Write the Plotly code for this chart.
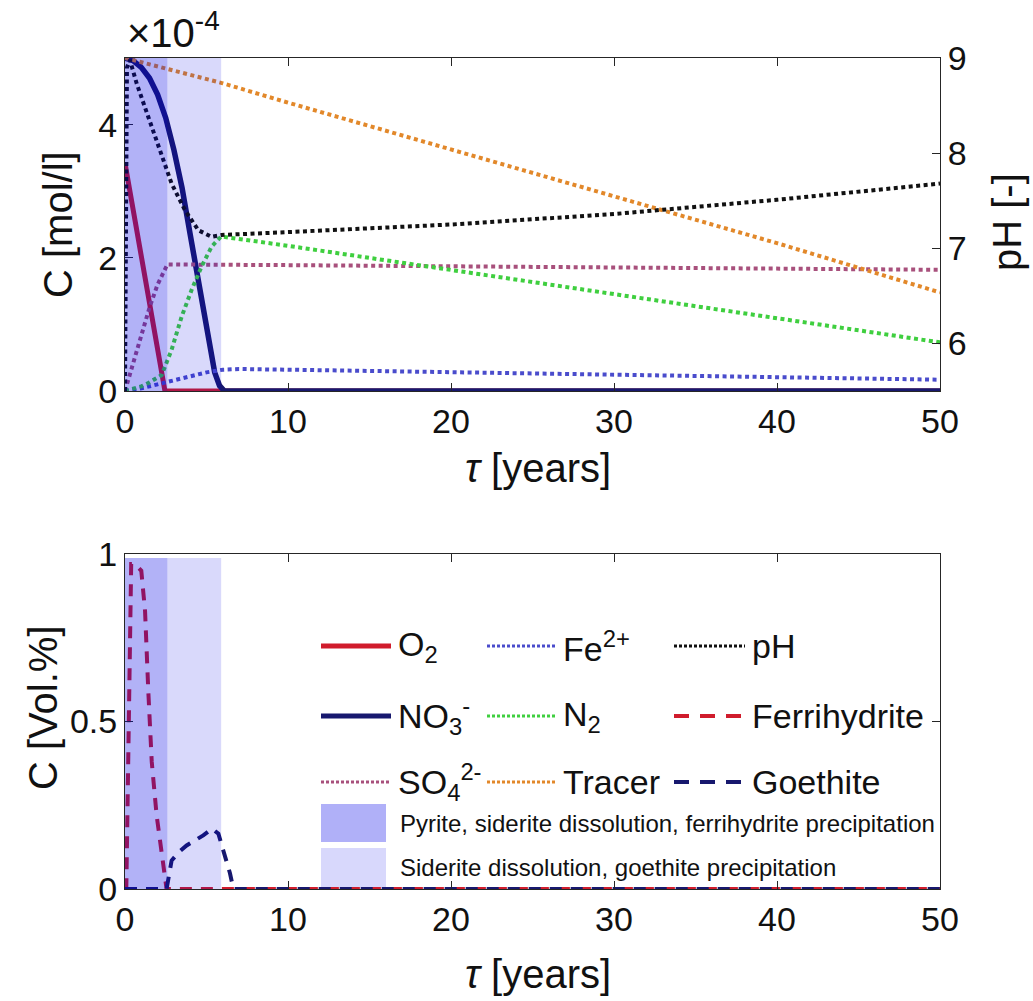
import plotly.graph_objects as go

# ---------------- data ----------------
# concentrations in units of 1e-4 mol/l, time tau in years
o2_t = [0, 2.45, 5.9, 50]
o2_c = [3.42, 0, 0, 0]

no3_t = [0, 0.5, 1.0, 1.5, 2.0, 2.5, 3.0, 3.5, 4.0, 4.5, 5.0, 5.5, 5.8, 6.1, 50]
no3_c = [5.0, 4.96, 4.86, 4.70, 4.45, 4.10, 3.62, 3.05, 2.35, 1.62, 0.90, 0.28, 0.08, 0.0, 0.0]

so4_t = [0, 0.5, 1.0, 1.5, 2.0, 2.6, 10, 20, 30, 40, 50]
so4_c = [0, 0.42, 0.85, 1.25, 1.60, 1.90, 1.89, 1.87, 1.85, 1.83, 1.82]

fe_t = [0, 1, 2, 3, 4, 5, 6, 7, 10, 20, 30, 40, 50]
fe_c = [0, 0.04, 0.10, 0.16, 0.23, 0.28, 0.32, 0.33, 0.32, 0.28, 0.24, 0.20, 0.17]

n2_t = [0, 0.5, 1.0, 1.43, 2.25, 2.86, 3.48, 4.09, 4.7, 5.32, 5.9, 10, 20, 30, 40, 50]
n2_c = [0, 0.03, 0.07, 0.12, 0.24, 0.62, 1.12, 1.52, 1.87, 2.17, 2.32, 2.18, 1.82, 1.46, 1.09, 0.73]

tracer_t = [0, 6, 10, 20, 30, 40, 50]
tracer_c = [5.0, 4.62, 4.33, 3.63, 2.93, 2.22, 1.48]

ph_t = [0, 0.12, 0.3, 0.72, 1.43, 2.15, 2.86, 3.68, 4.5, 5.32, 5.93, 10, 20, 30, 40, 50]
ph_v = [5.5, 8.9, 8.98, 8.73, 8.38, 8.03, 7.68, 7.40, 7.19, 7.12, 7.14, 7.17, 7.25, 7.36, 7.51, 7.68]

# mineral volume fractions in Vol.%
ferri_t = [0, 0.08, 0.38, 0.6, 1.0, 1.23, 1.43, 1.64, 1.94, 2.25, 2.45, 2.55, 50]
ferri_v = [0, 0, 0.97, 0.97, 0.95, 0.83, 0.59, 0.38, 0.22, 0.10, 0.02, 0, 0]

goe_t = [0, 2.55, 2.86, 3.3, 3.78, 4.3, 4.8, 5.35, 5.73, 6.03, 6.44, 6.65, 50]
goe_v = [0, 0, 0.085, 0.11, 0.13, 0.145, 0.16, 0.18, 0.165, 0.115, 0.047, 0, 0]

# reaction zones (years)
zone_pyrite = [0, 2.6]
zone_siderite = [2.6, 5.9]

x_ticks = [0, 10, 20, 30, 40, 50]
c_ticks = [0, 2, 4]
ph_ticks = [6, 7, 8, 9]
vol_ticks = [0, 0.5, 1]
vol_tick_text = ["0", "0.5", "1"]

# ---------------- styles ----------------
RED = "#d01c2c"
NAVY = "#17186e"
MAUVE = "#a8507c"
BLUE = "#4a4ccc"
GREEN = "#3fcf3f"
ORANGE = "#e2882a"
BLACK = "#111111"
DOT = "4px,3.5px"
DASH = "12px,9px"
FONT = "Liberation Sans, Arial, Helvetica, sans-serif"
AX = "#262626"

W, H = 1033, 1001
ML, MR, MT, MB = 125, 93, 58, 112
PW = W - ML - MR
PHh = H - MT - MB


def pxx(x):
    return (x - ML) / PW


def pxy(y):
    return (H - MB - y) / PHh


fig = go.Figure()

# upper panel: aqueous species
fig.add_trace(go.Scatter(x=o2_t, y=o2_c, mode="lines", line=dict(color=RED, width=5), xaxis="x", yaxis="y"))
fig.add_trace(go.Scatter(x=no3_t, y=no3_c, mode="lines", line=dict(color=NAVY, width=5.5), xaxis="x", yaxis="y"))
fig.add_trace(go.Scatter(x=so4_t, y=so4_c, mode="lines", line=dict(color=MAUVE, width=4, dash=DOT), xaxis="x", yaxis="y"))
fig.add_trace(go.Scatter(x=fe_t, y=fe_c, mode="lines", line=dict(color=BLUE, width=4, dash=DOT), xaxis="x", yaxis="y"))
fig.add_trace(go.Scatter(x=n2_t, y=n2_c, mode="lines", line=dict(color=GREEN, width=4, dash=DOT), xaxis="x", yaxis="y"))
fig.add_trace(go.Scatter(x=tracer_t, y=tracer_c, mode="lines", line=dict(color=ORANGE, width=4, dash=DOT), xaxis="x", yaxis="y"))
fig.add_trace(go.Scatter(x=ph_t, y=ph_v, mode="lines", line=dict(color=BLACK, width=4, dash=DOT), xaxis="x", yaxis="y2"))

# lower panel: minerals
fig.add_trace(go.Scatter(x=ferri_t, y=ferri_v, mode="lines", line=dict(color=RED, width=4, dash=DASH), xaxis="x2", yaxis="y3"))
fig.add_trace(go.Scatter(x=goe_t, y=goe_v, mode="lines", line=dict(color=NAVY, width=4, dash=DASH), xaxis="x2", yaxis="y3"))

# shaded reaction zones, drawn over the curves
shapes = []
for xr, yr, ytop in (("x", "y domain", 1.0), ("x2", "y3", 0.988)):
    shapes.append(dict(type="rect", xref=xr, yref=yr, x0=zone_pyrite[0], x1=zone_pyrite[1], y0=0, y1=ytop,
                       fillcolor="rgb(0,0,230)", opacity=0.30, line=dict(width=0), layer="above"))
    shapes.append(dict(type="rect", xref=xr, yref=yr, x0=zone_siderite[0], x1=zone_siderite[1], y0=0, y1=ytop,
                       fillcolor="rgb(0,0,230)", opacity=0.15, line=dict(width=0), layer="above"))

annotations = []

# hand-built legend (3 x 3 grid plus the two zone patches)
LDASH = "15px,11px"
legend_items = [
    ("O<sub>2</sub>", RED, "solid", 5, 321, 391, 396, 646),
    ("NO<sub>3</sub><sup>-</sup>", NAVY, "solid", 5, 321, 391, 396, 716),
    ("SO<sub>4</sub><sup>2-</sup>", MAUVE, "3px,2px", 3, 321, 391, 396, 782),
    ("Fe<sup>2+</sup>", BLUE, "3px,2px", 3, 487, 555, 561, 646),
    ("N<sub>2</sub>", GREEN, "3px,2px", 3, 487, 555, 561, 716),
    ("Tracer", ORANGE, "3px,2px", 3, 487, 555, 561, 782),
    ("pH", BLACK, "3px,2px", 3, 674, 745, 750, 646),
    ("Ferrihydrite", RED, LDASH, 4, 674, 745, 750, 716),
    ("Goethite", NAVY, LDASH, 4, 674, 745, 750, 782),
]
for label, col, dash, wdt, xa, xb, xt, yy in legend_items:
    shapes.append(dict(type="line", xref="paper", yref="paper", x0=pxx(xa), x1=pxx(xb), y0=pxy(yy), y1=pxy(yy),
                       line=dict(color=col, width=wdt, dash=dash), layer="above"))
    annotations.append(dict(xref="paper", yref="paper", x=pxx(xt), y=pxy(yy), text=label, showarrow=False,
                            xanchor="left", yanchor="middle", font=dict(family=FONT, size=34, color="#111")))

zone_items = [
    ("Pyrite, siderite dissolution, ferrihydrite precipitation", "rgb(176,176,248)", 804, 842),
    ("Siderite dissolution, goethite precipitation", "rgb(216,216,252)", 848, 887),
]
for label, col, ya, yb in zone_items:
    shapes.append(dict(type="rect", xref="paper", yref="paper", x0=pxx(321), x1=pxx(386), y0=pxy(yb), y1=pxy(ya),
                       fillcolor=col, line=dict(width=0), layer="above"))
    annotations.append(dict(xref="paper", yref="paper", x=pxx(398), y=pxy((ya + yb) / 2), text=label, showarrow=False,
                            xanchor="left", yanchor="middle", font=dict(family=FONT, size=24, color="#111")))

# axis titles and exponent label
title_font = dict(family=FONT, size=40, color="#111")
annotations += [
    dict(xref="paper", yref="paper", x=pxx(58), y=pxy(225), text="C [mol/l]", textangle=-90, showarrow=False,
         xanchor="center", yanchor="middle", font=title_font),
    dict(xref="paper", yref="paper", x=pxx(43), y=pxy(708), text="C [Vol.%]", textangle=-90, showarrow=False,
         xanchor="center", yanchor="middle", font=title_font),
    dict(xref="paper", yref="paper", x=pxx(1007), y=pxy(222), text="pH [-]", textangle=-90, showarrow=False,
         xanchor="center", yanchor="middle", font=title_font),
    dict(xref="paper", yref="paper", x=pxx(538), y=pxy(468), text="<i>τ</i> [years]", showarrow=False,
         xanchor="center", yanchor="middle", font=title_font),
    dict(xref="paper", yref="paper", x=pxx(538), y=pxy(974), text="<i>τ</i> [years]", showarrow=False,
         xanchor="center", yanchor="middle", font=title_font),
    dict(xref="paper", yref="paper", x=pxx(125), y=pxy(30), text="×10<sup>-4</sup>", showarrow=False,
         xanchor="left", yanchor="middle", font=dict(family=FONT, size=40, color="#111")),
]

tick_font = dict(family=FONT, size=34, color="#111")
axis_common = dict(showgrid=False, zeroline=False, showline=True, linecolor=AX, linewidth=1,
                   ticks="inside", ticklen=8, tickcolor=AX, tickfont=tick_font)

top_dom = [pxy(391), 1.0]
bot_dom = [0.0, pxy(554)]

fig.update_layout(
    width=W, height=H,
    margin=dict(l=ML, r=MR, t=MT, b=MB),
    paper_bgcolor="white", plot_bgcolor="white",
    showlegend=False,
    xaxis=dict(domain=[0, 1], anchor="y", range=[0, 50], tickvals=x_ticks, mirror="ticks", **axis_common),
    yaxis=dict(domain=top_dom, anchor="x", range=[0, 5], tickvals=c_ticks, **axis_common),
    yaxis2=dict(overlaying="y", side="right", anchor="x", range=[5.5, 9], tickvals=ph_ticks, **axis_common),
    xaxis2=dict(domain=[0, 1], anchor="y3", range=[0, 50], tickvals=x_ticks, mirror="ticks", **axis_common),
    yaxis3=dict(domain=bot_dom, anchor="x2", range=[0, 1], tickvals=vol_ticks, ticktext=vol_tick_text,
                mirror="ticks", **axis_common),
    shapes=shapes,
    annotations=annotations,
)

fig.write_html("out.html")
